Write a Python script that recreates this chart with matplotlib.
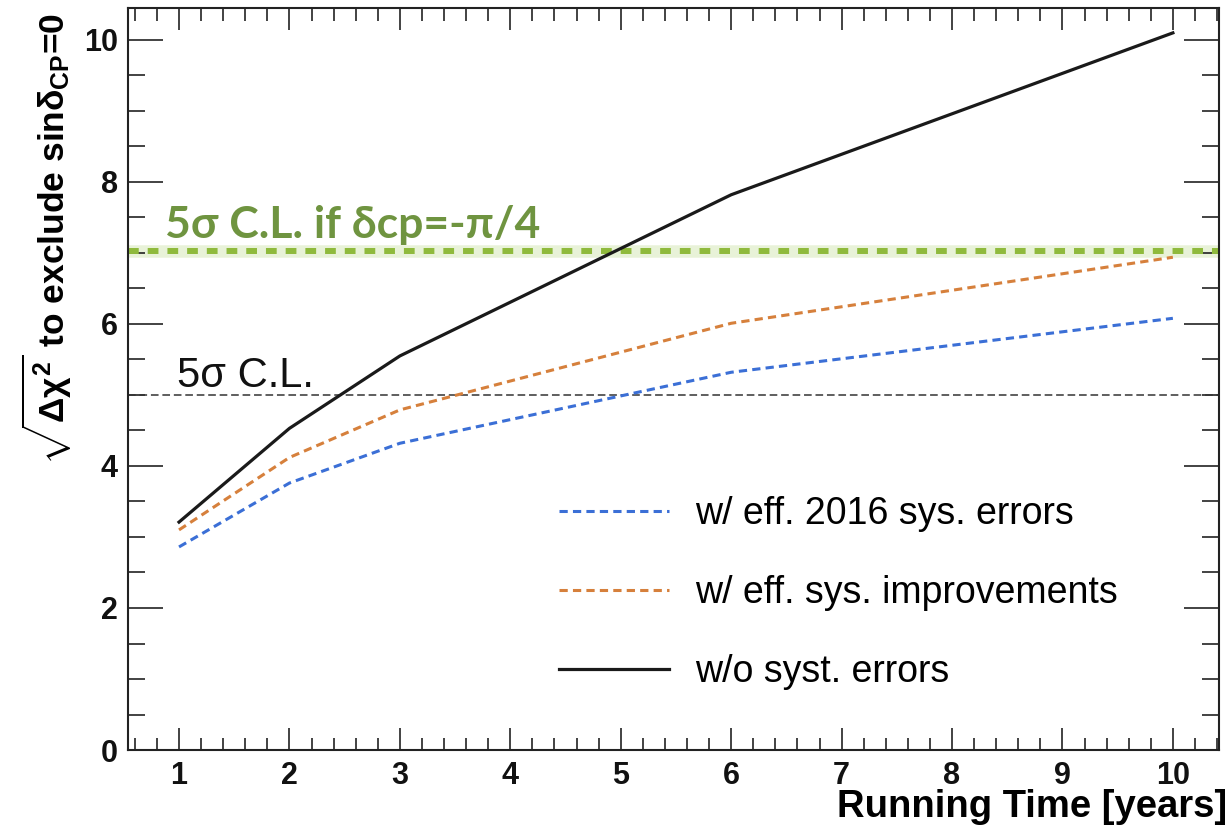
import matplotlib
matplotlib.use("Agg")
import matplotlib.pyplot as plt
from matplotlib.ticker import MultipleLocator

# ---- data ----
years = [1, 2, 3, 6, 10]
sys_2016 = [2.86, 3.76, 4.32, 5.32, 6.08]
sys_improved = [3.10, 4.12, 4.79, 6.01, 6.94]
no_sys = [3.21, 4.53, 5.55, 7.82, 10.1]
labels = ["w/ eff. 2016 sys. errors", "w/ eff. sys. improvements", "w/o syst. errors"]
cl5_if = 7.03
cl5 = 5.0
xticks = [1, 2, 3, 4, 5, 6, 7, 8, 9, 10]
yticks = [0, 2, 4, 6, 8, 10]

plt.rcParams['font.family'] = ['Liberation Sans', 'DejaVu Sans']
plt.rcParams['mathtext.fontset'] = 'custom'
plt.rcParams['mathtext.rm'] = 'Liberation Sans:bold'
plt.rcParams['mathtext.it'] = 'Liberation Sans:bold'
plt.rcParams['mathtext.bf'] = 'Liberation Sans:bold'

fig = plt.figure(figsize=(12.3, 8.27), dpi=100)
ax = fig.add_axes([0.1037, 0.0931, 0.991 - 0.1037, 0.9903 - 0.0931])

# reference lines
ax.axhline(cl5_if, color='#e3efcf', lw=9, alpha=0.8, zorder=1)
ax.axhline(cl5_if, color='#8fba3c', lw=4.3, dashes=(1.8, 1.5), zorder=2)
ax.axhline(cl5, color='#333333', lw=1.1, dashes=(5, 2.5), zorder=2)

l1, = ax.plot(years, sys_2016, color='#3b6fd6', lw=2.2, dashes=(2.7, 1.7), zorder=3)
l2, = ax.plot(years, sys_improved, color='#d6803c', lw=2.2, dashes=(2.7, 1.7), zorder=3)
l3, = ax.plot(years, no_sys, color='#1a1a1a', lw=2.3, zorder=4)

ax.set_xlim(0.534, 10.417)
ax.set_ylim(0, 10.45)

ax.xaxis.set_minor_locator(MultipleLocator(0.2))
ax.yaxis.set_minor_locator(MultipleLocator(0.5))
ax.set_xticks(xticks)
ax.set_yticks(yticks)

ax.tick_params(axis='both', which='both', direction='in', top=True, right=True,
               width=1.2, colors='#222222')
ax.tick_params(axis='y', which='major', length=25, labelsize=22, pad=7)
ax.tick_params(axis='y', which='minor', length=12.5)
ax.tick_params(axis='x', which='major', length=16, labelsize=22, pad=8)
ax.tick_params(axis='x', which='minor', length=9)
for lab in ax.get_xticklabels() + ax.get_yticklabels():
    lab.set_fontweight('bold')
    lab.set_color('#111111')
for s in ax.spines.values():
    s.set_linewidth(1.5)
    s.set_color('#222222')

ax.text(0.873, 7.21, "5σ C.L. if δcp=-π/4", color='#6f9440', fontsize=32,
        fontfamily=['Lato', 'DejaVu Sans'], fontweight='bold', va='baseline', ha='left', zorder=5)
ax.text(0.98, 5.11, "5σ C.L.", color='#111111', fontsize=30, va='baseline', ha='left', zorder=5)

ax.legend([l1, l2, l3], labels, loc='upper left', bbox_to_anchor=(0.3956, 0.342),
          frameon=False, fontsize=27, handlelength=2.93, handletextpad=0.7,
          labelspacing=1.15, borderpad=0, borderaxespad=0)

fig.text(47 / 1230, 1 - 13 / 827, r'$\sqrt{\Delta\chi^{2}}$ to exclude sin$\delta_{CP}$=0',
         rotation=90, ha='center', va='top', fontsize=25.5, fontweight='bold')
fig.text(1227 / 1230, 10 / 827, "Running Time [years]", ha='right', va='baseline',
         fontsize=27.5, fontweight='bold')

fig.savefig("out.png", dpi=100)
